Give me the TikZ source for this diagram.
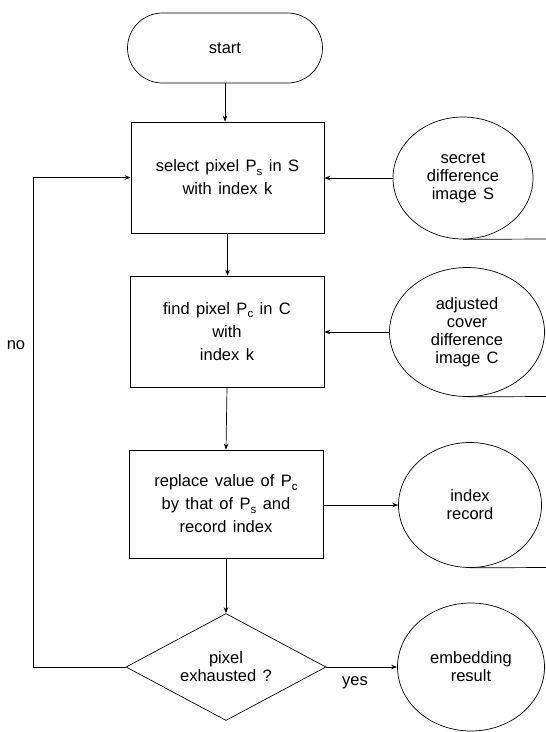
\documentclass[tikz,border=0pt]{standalone}
\usepackage{fontspec}
\setmainfont{Liberation Sans}[WordSpace=1.4]
\usetikzlibrary{shapes.geometric,arrows.meta}
\newcommand\subsc[1]{\raisebox{-3.5pt}{\fontsize{11.5pt}{11.5pt}\selectfont #1}}
\begin{document}
\begin{tikzpicture}[x=1pt,y=-1pt,
  line width=0.7pt,
  boxtxt/.style={font=\fontsize{16.5pt}{23pt}\selectfont, align=center},
  procbox/.style={draw, rectangle, boxtxt, inner sep=0pt},
  datacirc/.style={draw, ellipse, inner sep=0pt, align=center, font=\fontsize{16.5pt}{18pt}\selectfont},
  arr/.style={-{Stealth[length=6pt,width=4.5pt]}}
]
\useasboundingbox (0,0) rectangle (546,732);
\node[draw, rectangle, rounded corners=35pt, minimum width=195pt, minimum height=70pt, boxtxt] (start) at (225,48) {start};
\node[procbox, minimum width=193pt, minimum height=111pt] (b1) at (227.5,177.5) {select pixel P\subsc{s} in S\\with index k};
\node[procbox, minimum width=194pt, minimum height=111pt] (b2) at (227,331.5) {find pixel P\subsc{c} in C\\with\\index k};
\node[procbox, minimum width=194pt, minimum height=108pt] (b3) at (226,504) {replace value of P\subsc{c}\\by that of P\subsc{s} and\\record index};
\node[draw, diamond, aspect=1.87, inner sep=0pt, minimum width=200pt, minimum height=107pt, align=center, font=\fontsize{16.5pt}{18pt}\selectfont] (dia) at (226,667) {pixel\\exhausted ?};
\node[datacirc, minimum width=140pt, minimum height=122pt] (sec) at (463,178) {secret\\difference\\image S};
\node[datacirc, minimum width=155pt, minimum height=129pt] (adj) at (467,332) {adjusted\\cover\\difference\\image C};
\node[datacirc, minimum width=143pt, minimum height=125pt] (idx) at (470,505) {index\\record};
\node[datacirc, minimum width=147pt, minimum height=128pt] (emb) at (471,667) {embedding\\result};
\coordinate (t1) at (546,239);
\coordinate (t2) at (546,396.5);
\coordinate (t3) at (546,567.5);
\coordinate (lpx) at (33,0);
\node[font=\fontsize{16.5pt}{18pt}\selectfont] (no) at (16,345) {no};
\node[font=\fontsize{16.5pt}{18pt}\selectfont] (yes) at (355,683) {yes};
\draw[arr] (start) -- (start.south |- b1.north);
\draw[arr] (b1) -- (b1.south |- b2.north);
\draw[arr] (b2.south) -- (b3.north);
\draw[arr] (b3.south) -- (dia.north);
\draw[arr] (sec.west) -- (sec.west -| b1.east);
\draw[arr] (adj.west) -- (adj.west -| b2.east);
\draw[arr] (b3.east |- idx.west) -- (idx.west);
\draw[arr] (dia.east) -- (emb.west);
\draw[arr] (dia.west) -- (dia.west -| lpx) |- (b1.west);
\draw (sec.south) -- (t1);
\draw (adj.south) -- (t2);
\draw (idx.south) -- (t3);
\end{tikzpicture}
\end{document}
